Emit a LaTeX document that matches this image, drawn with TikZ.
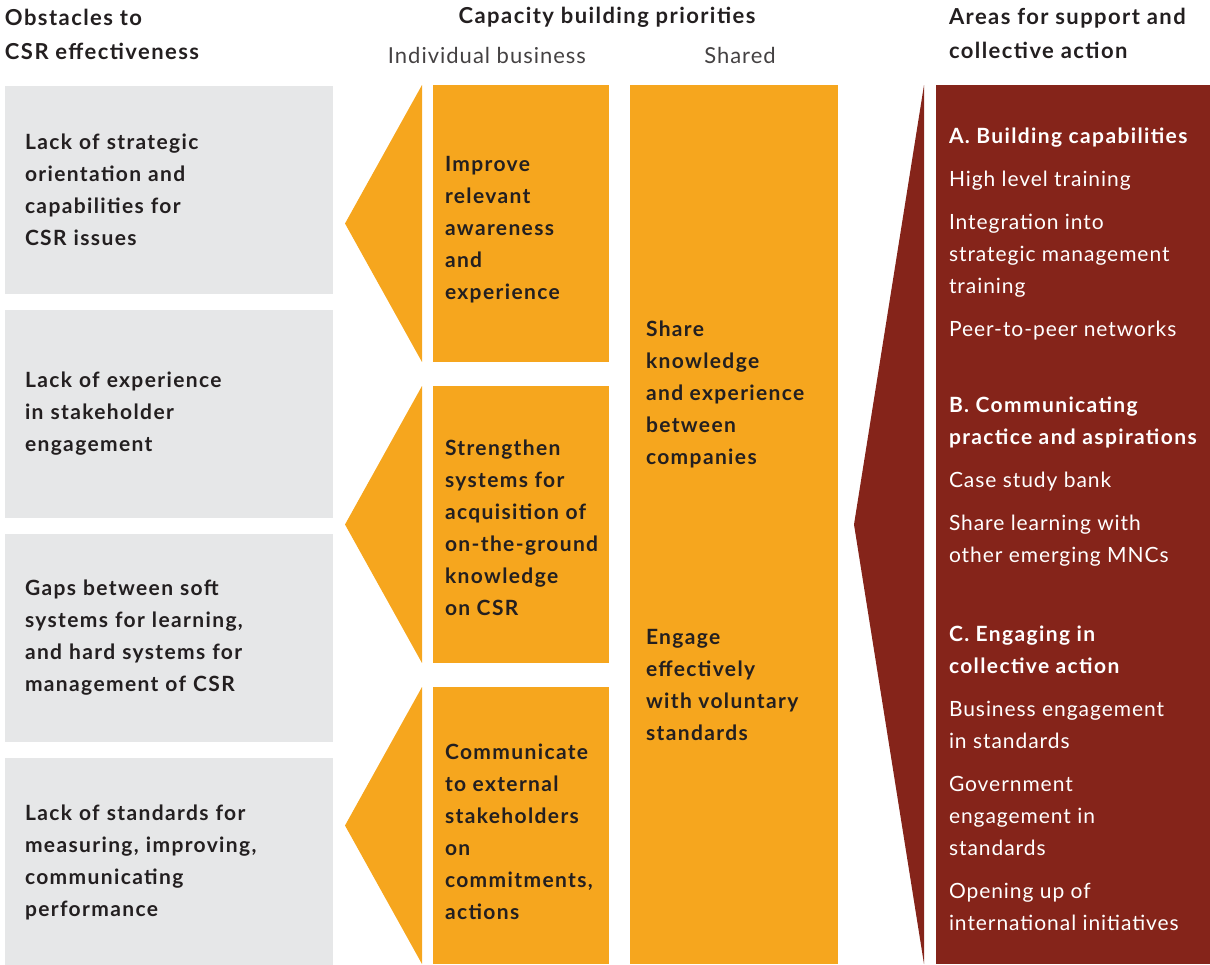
\documentclass[tikz,border=0pt]{standalone}
\usepackage{fontspec}
\setmainfont{Lato}[LetterSpace=4.5,BoldFeatures={LetterSpace=6.5}]
\usetikzlibrary{positioning}
\definecolor{csrgrey}{HTML}{E6E7E8}
\definecolor{csrorange}{HTML}{F6A61E}
\definecolor{csrred}{HTML}{85241A}
\definecolor{csrtext}{HTML}{231F20}

\begin{document}
\begin{tikzpicture}[x=1pt,y=-1pt,node distance=16pt,
			every node/.style={inner sep=0pt,outer sep=0pt},
			head node/.style={font=\fontsize{22}{34}\selectfont\bfseries,text=csrtext,align=left},
			sub node/.style={font=\fontsize{22}{34}\selectfont,text=csrtext!85},
			obstacle node/.style={rectangle,fill=csrgrey,minimum width=328pt,minimum height=208pt,
				text width=288pt,align=left,font=\fontsize{21}{32}\selectfont\bfseries,text=csrtext},
			priority node/.style={rectangle,fill=csrorange,minimum width=176pt,minimum height=277pt},
			text node/.style={align=left,font=\fontsize{21}{32}\selectfont\bfseries,text=csrtext},
			area node/.style={align=left,font=\fontsize{21}{32}\selectfont,text=white}]
			
			\useasboundingbox (0,0) rectangle (1210,964);
			
			% headings
			\node[head node,anchor=west] (obsthead) at (5,34.5) {Obstacles to\\CSR effectiveness};
			\node[head node] (caphead) at (607,17) {Capacity building priorities};
			\node[sub node] (indivhead) at (487,55) {Individual business};
			\node[sub node] (sharedhead) at (740,55) {Shared};
			\node[head node,anchor=west] (areahead) at (949,33.5) {Areas for support and\\collective action};
			
			% obstacles
			\node[obstacle node,anchor=north west] (ob1) at (5,86) {Lack of strategic\\orientation and\\capabilities for\\CSR issues};
			\node[obstacle node] (ob2) [below=of ob1] {Lack of experience\\in stakeholder\\engagement};
			\node[obstacle node] (ob3) [below=of ob2] {Gaps between soft\\systems for learning,\\and hard systems for\\management of CSR};
			\node[obstacle node] (ob4) [below=of ob3] {Lack of standards for\\measuring, improving,\\communicating\\performance};
			
			% individual priorities
			\node[priority node,anchor=north west] (pr1) at (433,85) {};
			\node[priority node] (pr2) [below=24pt of pr1] {};
			\node[priority node] (pr3) [below=24pt of pr2] {};
			\foreach \n in {pr1,pr2,pr3}
			\fill[csrorange] ([xshift=-11pt]\n.north west) -- ([xshift=-88pt]\n.west)
				-- ([xshift=-11pt]\n.south west) -- cycle;
			\node[text node,anchor=west] (improve) at ([shift={(12,6)}]pr1.west) {Improve\\relevant\\awareness\\and\\experience};
			\node[text node,anchor=west] (strengthen) at ([shift={(12,3)}]pr2.west) {Strengthen\\systems for\\acquisition of\\on-the-ground\\knowledge\\on CSR};
			\node[text node,anchor=west] (communicate) at ([shift={(12,6)}]pr3.west) {Communicate\\to external\\stakeholders\\on\\commitments,\\actions};
			
			% shared priorities
			\node[fill=csrorange,minimum width=208pt,minimum height=879pt,anchor=north west] (shared) at (630,85) {};
			\node[text node,anchor=west] (share) at (646,394) {Share\\knowledge\\and experience\\between\\companies};
			\node[text node,anchor=west] (engage) at (646,685) {Engage\\effectively\\with voluntary\\standards};
			
			% areas for support
			\node[fill=csrred,minimum width=274pt,minimum height=879pt,anchor=north west] (areas) at (936,85) {};
			\fill[csrred] ([xshift=-12pt]areas.north west) -- ([xshift=-82pt]areas.west)
				-- ([xshift=-12pt]areas.south west) -- cycle;
			\node[area node,anchor=west] (secA) at (949,234) {\textbf{A. Building capabilities}\\[11pt]
				High level training\\[11pt]
				Integration into\\strategic management\\training\\[11pt]
				Peer-to-peer networks};
			\node[area node,anchor=west] (secB) at (949,482) {\textbf{B. Communicating}\\\textbf{practice and aspirations}\\[11pt]
				Case study bank\\[11pt]
				Share learning with\\other emerging MNCs};
			\node[area node,anchor=west] (secC) at (949,778) {\textbf{C. Engaging in}\\\textbf{collective action}\\[11pt]
				Business engagement\\in standards\\[11pt]
				Government\\engagement in\\standards\\[11pt]
				Opening up of\\international initiatives};
\end{tikzpicture}
\end{document}
